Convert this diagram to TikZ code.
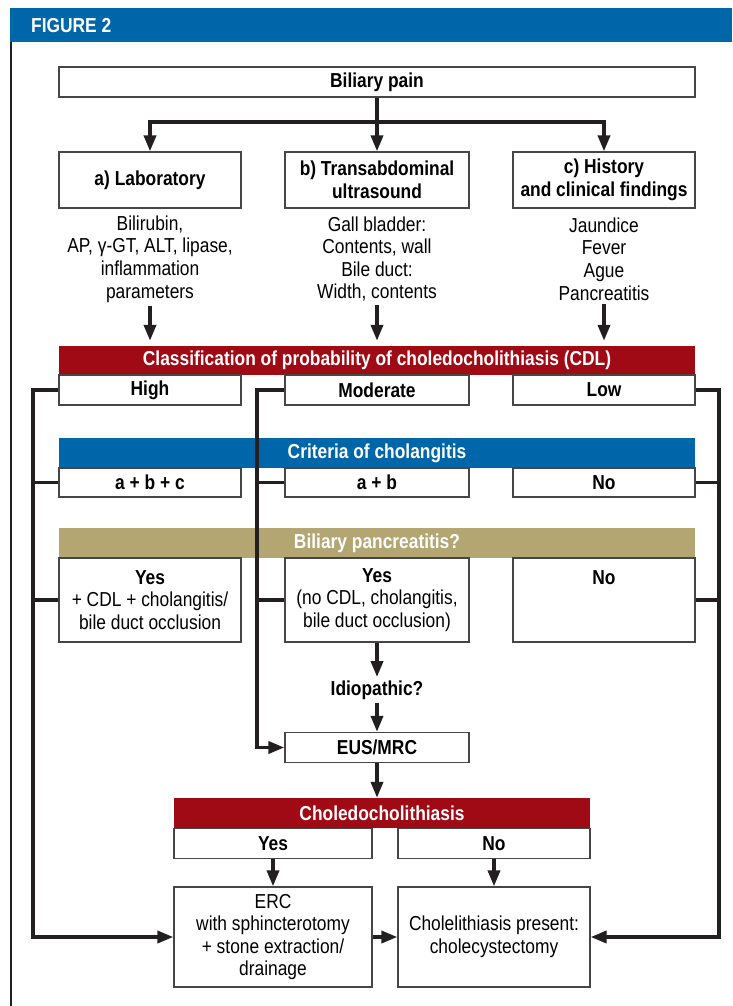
\documentclass[tikz,border=0pt]{standalone}
\usepackage{fontspec}
\setmainfont{Liberation Sans}[FakeStretch=0.86]
\usetikzlibrary{arrows.meta, positioning, calc}

\definecolor{figblue}{RGB}{0,102,170}
\definecolor{figred}{RGB}{160,10,20}
\definecolor{figtan}{RGB}{179,166,115}
\definecolor{linegray}{RGB}{35,31,32}
\definecolor{boxgray}{RGB}{70,70,70}
\newcommand{\figfont}{\fontsize{20.2}{22.6}\selectfont}

\tikzset{
  box/.style={draw=boxgray, line width=1.3pt, fill=white, inner sep=0pt, align=center, font=\figfont, minimum height=30pt},
  pick/.style={box, font=\figfont\bfseries},
  title/.style={pick, minimum width=182pt, minimum height=56pt},
  banner/.style={fill=#1, text=white, font=\figfont\bfseries, inner sep=0pt, minimum height=29pt},
  note/.style={font=\figfont, align=center},
  conn/.style={draw=linegray, line width=3.6pt},
  arr/.style={conn, -{Triangle[width=12pt,length=16pt]}},
}

\begin{document}
\begin{tikzpicture}[x=1pt, y=-1pt]
  \useasboundingbox (0,0) rectangle (732,1006);
  % header
  \fill[figblue] (10,8) rectangle (732,42);
  \node[anchor=west, text=white, font=\figfont\bfseries, inner sep=0pt] (figlabel) at (31,25.5) {FIGURE 2};
  \draw[linegray, line width=2pt] (11,42) -- (11,1006);

  % pain and examinations
  \node[pick, minimum width=636pt] (pain) at (377,82) {Biliary pain};
  \node[title] (lab) at (150,180) {a) Laboratory};
  \node[title, minimum width=184pt] (tus) at (377,180) {b) Transabdominal\\ultrasound};
  \node[title] (hist) at (604,180) {c) History\\and clinical findings};
  \node[note] (labtxt) at (150,259) {Bilirubin,\\AP, γ-GT, ALT, lipase,\\inflammation\\parameters};
  \node[note] (tustxt) at (377,259) {Gall bladder:\\Contents, wall\\Bile duct:\\Width, contents};
  \node[note] (histtxt) at (604,259) {Jaundice\\Fever\\Ague\\Pancreatitis};

  % probability
  \node[banner=figred, minimum width=636pt] (cdl) at (377,360.5) {Classification of probability of choledocholithiasis (CDL)};
  \node[pick, minimum width=182pt] (high) at (150,390) {High};
  \node[pick, minimum width=184pt] (moderate) at (377,390) {Moderate};
  \node[pick, minimum width=182pt] (low) at (604,390) {Low};

  % cholangitis
  \node[banner=figblue, minimum width=636pt, minimum height=30pt] (crit) at (377,453) {Criteria of cholangitis};
  \node[pick, minimum width=182pt, minimum height=29pt] (abc) at (150,482.5) {a + b + c};
  \node[pick, minimum width=184pt, minimum height=29pt] (ab) at (377,482.5) {a + b};
  \node[pick, minimum width=182pt, minimum height=29pt] (no1) at (604,482.5) {No};

  % pancreatitis
  \node[banner=figtan, minimum width=636pt, minimum height=30pt] (panc) at (377,543) {Biliary pancreatitis?};
  \node[box, minimum width=182pt, minimum height=84pt] (yes1) at (150,600) {\textbf{Yes}\\+ CDL + cholangitis/\\bile duct occlusion};
  \node[box, minimum width=184pt, minimum height=84pt] (yes2) at (377,600) {\textbf{Yes}\\(no CDL, cholangitis,\\bile duct occlusion)};
  \node[box, minimum width=182pt, minimum height=84pt] (no2) at (604,600) {\textbf{No}\\\mbox{}\\\mbox{}};

  % middle path
  \node[font=\figfont\bfseries] (idio) at (377,690) {Idiopathic?};
  \node[pick, minimum width=184pt] (eus) at (377,747.5) {EUS/MRC};

  % result
  \node[banner=figred, minimum width=416pt, minimum height=30pt] (chol) at (382,813) {Choledocholithiasis};
  \node[pick, minimum width=198pt] (yes3) at (273,843.5) {Yes};
  \node[pick, minimum width=192pt] (no3) at (494,843.5) {No};
  \node[box, minimum width=198pt, minimum height=100pt] (erc) at (273,937) {ERC\\with sphincterotomy\\+ stone extraction/\\drainage};
  \node[box, minimum width=192pt, minimum height=100pt] (cce) at (494,937) {Cholelithiasis present:\\cholecystectomy};

  % connectors
  \coordinate (split) at (377,122);
  \draw[conn] (pain.south) -- (split);
  \draw[arr] (split) -| (lab.north);
  \draw[arr] (split) -- (tus.north);
  \draw[arr] (split) -| (hist.north);
  \foreach \t in {labtxt,tustxt,histtxt}
    \draw[arr, shorten >=5pt] (\t.south) -- (\t.south |- cdl.north);

  \coordinate (leftrail) at (33,0);
  \coordinate (midrail) at (257,0);
  \coordinate (rightrail) at (719,0);
  \draw[arr] (high.west) -- (high.west -| leftrail) -- (erc.west -| leftrail) -- (erc.west);
  \foreach \n in {abc,yes1}
    \draw[conn] (\n.west) -- (\n.west -| leftrail);
  \draw[arr] (moderate.west) -- (moderate.west -| midrail) -- (eus.west -| midrail) -- (eus.west);
  \foreach \n in {ab,yes2}
    \draw[conn] (\n.west) -- (\n.west -| midrail);
  \draw[arr] (low.east) -- (low.east -| rightrail) -- (cce.east -| rightrail) -- (cce.east);
  \foreach \n in {no1,no2}
    \draw[conn] (\n.east) -- (\n.east -| rightrail);

  \draw[arr] (yes2.south) -- (idio.north);
  \draw[arr] (idio.south) -- (eus.north);
  \draw[arr] (eus.south) -- (eus.south |- chol.north);
  \draw[arr] (yes3.south) -- (erc.north);
  \draw[arr] (no3.south) -- (cce.north);
  \draw[arr] (erc.east) -- (cce.west);
\end{tikzpicture}
\end{document}
